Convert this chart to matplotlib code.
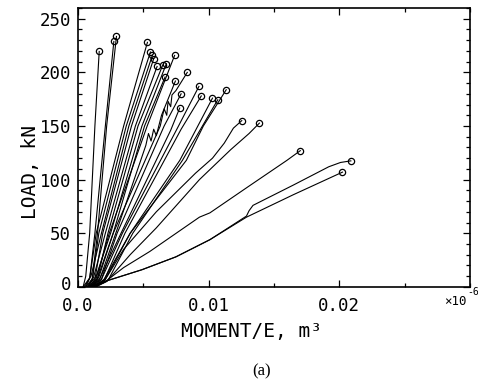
import numpy as np
import matplotlib
matplotlib.use("Agg")
from matplotlib import pyplot as plt
from matplotlib.ticker import MultipleLocator, FixedLocator
from matplotlib.transforms import ScaledTranslation

# moment/E values (x 1e-6 m^3) for each load path
moment = [
    [0.0004, 0.0006, 0.0009, 0.0013, 0.00163],
    [0.0006, 0.0009, 0.0013, 0.0021, 0.00275],
    [0.0008, 0.0011, 0.0015, 0.0022, 0.00295],
    [0.0005, 0.0009, 0.0014, 0.0035, 0.00532],
    [0.0007, 0.0011, 0.0016, 0.0037, 0.00555],
    [0.0004, 0.0010, 0.0018, 0.0039, 0.0057],
    [0.0009, 0.0013, 0.0019, 0.0041, 0.0058],
    [0.0006, 0.0012, 0.0021, 0.0044, 0.00606],
    [0.0010, 0.0015, 0.0023, 0.0046, 0.0065],
    [0.0007, 0.0014, 0.0025, 0.0049, 0.00677],
    [0.0011, 0.0016, 0.0027, 0.0051, 0.00667],
    [0.0008, 0.0014, 0.0024, 0.0053, 0.0074],
    [0.0010, 0.0017, 0.0029, 0.0052, 0.0054, 0.0056, 0.0058, 0.0060, 0.0064, 0.00746],
    [0.0009, 0.0016, 0.0033, 0.0071, 0.00779],
    [0.0012, 0.0018, 0.0030, 0.0066, 0.0079],
    [0.0009, 0.0015, 0.0027, 0.0063, 0.0066, 0.0068, 0.0069, 0.0071, 0.0072, 0.0075, 0.00837],
    [0.0010, 0.0018, 0.0034, 0.0077, 0.00926],
    [0.0013, 0.0020, 0.0036, 0.0079, 0.00944],
    [0.0011, 0.0021, 0.0040, 0.0078, 0.0103],
    [0.0014, 0.0023, 0.0042, 0.0080, 0.0107],
    [0.0012, 0.0020, 0.0040, 0.0083, 0.0096, 0.01135],
    [0.0012, 0.0020, 0.0035, 0.0060, 0.0090, 0.0103, 0.0112, 0.0119, 0.01254],
    [0.0013, 0.0022, 0.0040, 0.0060, 0.0093, 0.0117, 0.0131, 0.01389],
    [0.0010, 0.0020, 0.0035, 0.0055, 0.0093, 0.0101, 0.0131, 0.0160, 0.01702],
    [0.0008, 0.0023, 0.0049, 0.0075, 0.0101, 0.0129, 0.0131, 0.0134, 0.0165, 0.0192, 0.0201, 0.02089],
    [0.0008, 0.0023, 0.0049, 0.0075, 0.0101, 0.0129, 0.0165, 0.02025],
]

# load values (kN) matching the moment lists above
load = [
    [0, 10, 50, 150, 219.5],
    [0, 8, 50, 150, 228.8],
    [0, 8, 50, 150, 233.5],
    [0, 8, 50, 150, 228],
    [0, 6, 50, 150, 219],
    [0, 10, 50, 150, 216],
    [0, 7, 50, 150, 212.7],
    [0, 9, 50, 150, 205.5],
    [0, 8, 50, 150, 207],
    [0, 10, 50, 150, 208],
    [0, 9, 50, 150, 195.6],
    [0, 8, 50, 150, 215.8],
    [0, 8, 50, 132, 143, 136, 147, 141, 160, 191.9],
    [0, 6, 50, 146, 166.7],
    [0, 7, 50, 150, 180],
    [0, 8, 50, 150, 166, 160, 173, 168, 179, 183, 200],
    [0, 7, 50, 150, 186.9],
    [0, 6, 50, 147, 178],
    [0, 7, 50, 118, 176],
    [0, 6, 50, 118, 174.4],
    [0, 7, 50, 118, 150, 183.8],
    [0, 5, 35, 70, 106, 120, 134, 148, 155],
    [0, 5, 30, 55, 100, 128, 143, 152.7],
    [0, 4, 18, 33, 65, 69, 94, 118, 127],
    [0, 6, 16, 28, 44, 66, 71, 76, 95, 112, 116, 117.5],
    [0, 6, 16, 28, 44, 65, 86, 107],
]

fig = plt.figure(figsize=(4.78, 3.82), dpi=100)
ax = fig.add_axes([0.163, 0.249, 0.820, 0.730])

for xs, ys in zip(moment, load):
    ax.plot(xs, ys, color="black", lw=0.8)
    # failure point marked with an open circle
    ax.plot(xs[-1], ys[-1], "o", mfc="none", mec="black", ms=4.5, mew=0.9)

ax.set_xlim(0, 0.03)
ax.set_ylim(0, 260)

mono = "DejaVu Sans Mono"
ax.xaxis.set_major_locator(FixedLocator([0.0, 0.01, 0.02]))
ax.xaxis.set_minor_locator(MultipleLocator(0.005))
ax.set_xticklabels(["0.0", "0.01", "0.02"], family=mono, fontsize=12.5)
ax.yaxis.set_minor_locator(MultipleLocator(10))
ax.set_yticks([0, 50, 100, 150, 200, 250])
ax.set_yticklabels(["0", "50", "100", "150", "200", "250"], family=mono, fontsize=12.5)
ax.tick_params(which="both", direction="in", top=True, right=True, width=0.9)
ax.tick_params(which="major", length=5)
ax.tick_params(axis="x", which="major", pad=7)
ax.tick_params(axis="y", which="major", pad=5)
ax.tick_params(which="minor", length=3)
for s in ax.spines.values():
    s.set_linewidth(1.2)

# lift the "0" on the load axis a little, clear of "0.0"
zero = ax.get_yticklabels()[0]
zero.set_transform(zero.get_transform() + ScaledTranslation(0, 3 / 72, fig.dpi_scale_trans))

# axis titles placed as figure text, as in the scan
fig.text(0.063, 0.55, "LOAD, kN", family=mono, fontsize=14, rotation=90,
         ha="center", va="center")
fig.text(0.527, 0.131, "MOMENT/E, m\u00b3", family=mono, fontsize=14,
         ha="center", va="center")

fig.text(0.976, 0.212, "\u00d710", family=mono, fontsize=9, ha="right", va="center")
fig.text(0.977, 0.235, "-6", family=mono, fontsize=7, ha="left", va="center")
fig.text(0.548, 0.027, "(a)", family="Liberation Serif", fontsize=12, ha="center", va="center")

fig.savefig("out.png", dpi=100)
